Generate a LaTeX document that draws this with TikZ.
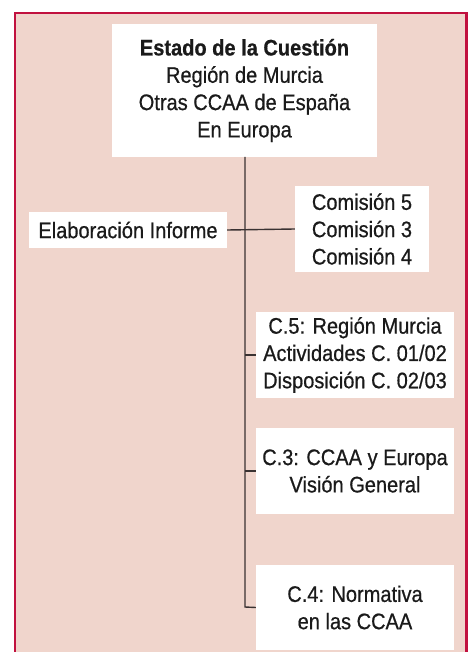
\documentclass[tikz,border=0pt]{standalone}
\usepackage{fontspec}
\setmainfont{Liberation Sans}[FakeStretch=0.89, FakeBold=0.6]
\definecolor{framered}{HTML}{C1113F}
\definecolor{bgpink}{HTML}{F0D5CC}
\definecolor{linegrey}{HTML}{3A3232}
\definecolor{txt}{HTML}{1A1A1A}
\tikzset{
  box/.style={fill=white, draw=none, align=center, inner sep=0pt,
    text=txt, font=\fontsize{22.5}{27.3}\selectfont},
  conn/.style={draw=linegrey, line width=1.4pt},
}
\begin{document}
\begin{tikzpicture}[x=1pt,y=-1pt]
\useasboundingbox (0,0) rectangle (469,652);
\draw[draw=framered, fill=bgpink, line width=2.5pt] (15,13) rectangle (466.5,660);

\node[box, minimum width=265pt, minimum height=133pt] (top) at (244.5,90.5)
  {\textbf{Estado de la Cuestión}\\Región de Murcia\\Otras CCAA de España\\En Europa};
\node[box, minimum width=198pt, minimum height=36pt] (elab) at (128,230)
  {Elaboración Informe};
\node[box, minimum width=134pt, minimum height=86pt] (com) at (362,229)
  {Comisión 5\\Comisión 3\\Comisión 4};
\node[box, minimum width=198pt, minimum height=86pt] (c5) at (355,355)
  {C.5: Región Murcia\\Actividades C. 01/02\\Disposición C. 02/03};
\node[box, minimum width=198pt, minimum height=86pt] (c3) at (355,471)
  {C.3: CCAA y Europa\\Visión General};
\node[box, minimum width=198pt, minimum height=85pt] (c4) at (355,607.5)
  {C.4: Normativa\\en las CCAA};

\coordinate (vtop) at (245,157);
\coordinate (vbot) at (245,607);
\draw[conn] (vtop) -- (vbot) -- (c4.west);
\draw[conn] (elab.east) -- (com.west);
\draw[conn] (vtop |- c5.west) -- (c5.west);
\draw[conn] (vtop |- c3.west) -- (c3.west);
\end{tikzpicture}
\end{document}
